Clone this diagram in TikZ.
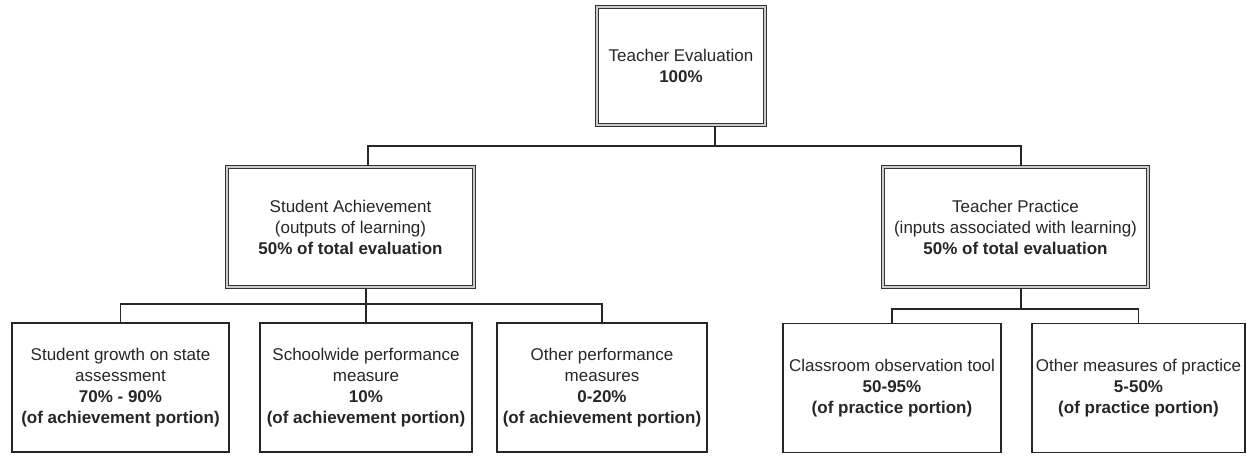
\documentclass[tikz,border=0pt]{standalone}
\usepackage{fontspec}
\setmainfont{Liberation Sans}
\usepackage{tikz}
\usetikzlibrary{positioning}

\tikzset{
  dbox/.style={draw=black!80, double=black!20, double distance=1.8pt, line width=1.5pt,
    inner sep=0pt, align=center, text=black!85},
  leafbox/.style={draw=black!85, line width=1.3pt, inner sep=0pt, align=center, text=black!85},
  conn/.style={draw=black!85, line width=1.6pt}
}

\begin{document}
\begin{tikzpicture}[x=1pt,y=-1pt,font=\fontsize{17}{21}\selectfont]
  \useasboundingbox (0,0) rectangle (1247,456);
  % top level
  \node[dbox, minimum width=168, minimum height=118] (top) at (681,66)
    {Teacher Evaluation\\\textbf{100\%}};
  % second level
  \node[dbox, minimum width=247, minimum height=120] (sa) at (350.5,227)
    {Student Achievement\\(outputs of learning)\\\textbf{50\% of total evaluation}};
  \node[dbox, minimum width=265, minimum height=120] (tp) at (1015.5,227)
    {Teacher Practice\\(inputs associated with learning)\\\textbf{50\% of total evaluation}};
  % leaves
  \node[leafbox, minimum width=217, minimum height=129] (l1) at (120.5,387.5)
    {Student growth on state\\assessment\\\textbf{70\% - 90\%}\\\textbf{(of achievement portion)}};
  \node[leafbox, minimum width=212, minimum height=129] (l2) at (366,387.5)
    {Schoolwide performance\\measure\\\textbf{10\%}\\\textbf{(of achievement portion)}};
  \node[leafbox, minimum width=210, minimum height=129] (l3) at (602,387.5)
    {Other performance\\measures\\\textbf{0-20\%}\\\textbf{(of achievement portion)}};
  \node[leafbox, minimum width=218, minimum height=129] (l4) at (892,388)
    {Classroom observation tool\\\textbf{50-95\%}\\\textbf{(of practice portion)}};
  \node[leafbox, minimum width=213, minimum height=129] (l5) at (1138.5,388)
    {Other measures of practice\\\textbf{5-50\%}\\\textbf{(of practice portion)}};
  % connectors
  \draw[conn] ([xshift=34] top.south) -- ++(0,20) -| ([xshift=17.5] sa.north);
  \draw[conn] ([xshift=34] top.south) -- ++(0,20) -| ([xshift=5.5] tp.north);
  \draw[conn] ([xshift=15.5] sa.south) -- ++(0,16) -| (l1.north);
  \draw[conn] ([xshift=15.5] sa.south) -- (l2.north);
  \draw[conn] ([xshift=15.5] sa.south) -- ++(0,16) -| (l3.north);
  \draw[conn] ([xshift=5.5] tp.south) -- ++(0,21) -| (l4.north);
  \draw[conn] ([xshift=5.5] tp.south) -- ++(0,21) -| (l5.north);
\end{tikzpicture}
\end{document}
